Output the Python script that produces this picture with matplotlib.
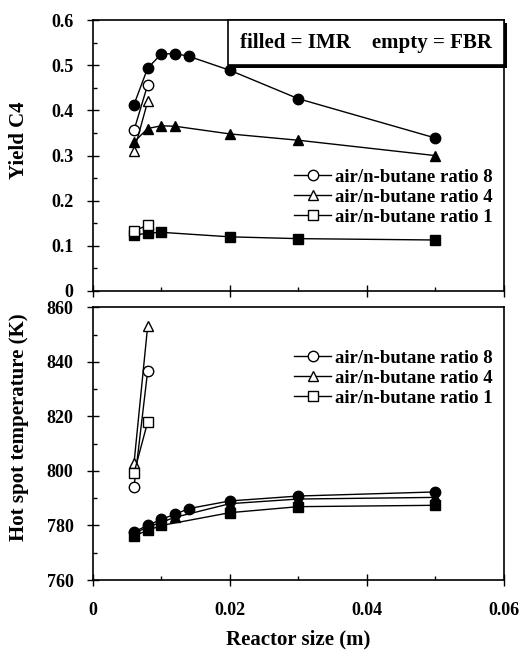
import matplotlib
matplotlib.use("Agg")
import matplotlib.pyplot as plt
from matplotlib.ticker import MultipleLocator
from matplotlib.lines import Line2D
from matplotlib.patches import Rectangle

plt.rcParams['font.family'] = ['Liberation Serif', 'DejaVu Serif']
plt.rcParams['font.weight'] = 'bold'

# reactor size (m)
x_imr8 = [0.006, 0.008, 0.010, 0.012, 0.014, 0.020, 0.030, 0.050]
x_imr4 = [0.006, 0.008, 0.010, 0.012, 0.020, 0.030, 0.050]
x_imr1 = [0.006, 0.008, 0.010, 0.020, 0.030, 0.050]
x_fbr = [0.006, 0.008]

# yield C4
y_imr8 = [0.413, 0.494, 0.525, 0.526, 0.520, 0.489, 0.426, 0.339]
y_imr4 = [0.330, 0.360, 0.366, 0.365, 0.348, 0.334, 0.300]
y_imr1 = [0.124, 0.128, 0.130, 0.120, 0.116, 0.113]
y_fbr8 = [0.356, 0.457]
y_fbr4 = [0.310, 0.420]
y_fbr1 = [0.133, 0.146]

# hot spot temperature (K)
t_imr8 = [777.7, 780.0, 782.3, 784.1, 786.2, 789.0, 790.8, 792.3]
t_imr4 = [777.0, 779.5, 781.2, 783.0, 788.0, 789.7, 790.3]
t_imr1 = [776.2, 778.2, 780.0, 784.7, 786.9, 787.4]
t_fbr8 = [794.1, 836.7]
t_fbr4 = [802.8, 853.2]
t_fbr1 = [799.2, 818.0]

yield_ticks = [0, 0.1, 0.2, 0.3, 0.4, 0.5, 0.6]
yield_labels = ['0', '0.1', '0.2', '0.3', '0.4', '0.5', '0.6']
temp_ticks = [760, 780, 800, 820, 840, 860]
size_ticks = [0, 0.02, 0.04, 0.06]
size_labels = ['0', '0.02', '0.04', '0.06']

labels = ['air/n-butane ratio 8', 'air/n-butane ratio 4', 'air/n-butane ratio 1']
markers = ['o', '^', 's']
msizes = [7.5, 7.5, 6.5]

fig = plt.figure(figsize=(5.22, 6.51), dpi=100)
ax1 = fig.add_axes([0.178, 0.553, 0.787, 0.416])
ax2 = fig.add_axes([0.178, 0.109, 0.787, 0.419])


def draw(ax, imr, fbr):
    for (xs, ys), m, ms in zip(imr, markers, msizes):
        ax.plot(xs, ys, color='black', lw=1, marker=m, ms=ms,
                mfc='black', mec='black')
    for ys, m, ms in zip(fbr, markers, msizes):
        ax.plot(x_fbr, ys, color='black', lw=1, marker=m, ms=ms,
                mfc='white', mec='black', mew=1)
    ax.set_xlim(0, 0.06)
    ax.set_xticks(size_ticks)
    ax.xaxis.set_minor_locator(MultipleLocator(0.01))
    ax.tick_params(which='major', direction='inout', length=8, width=1,
                   labelsize=13, right=False, top=False)
    ax.tick_params(which='minor', direction='in', length=3, width=1)
    ax.tick_params(axis='y', pad=10)
    for s in ax.spines.values():
        s.set_linewidth(1.2)
    handles = [Line2D([], [], color='black', lw=1, marker=m, ms=ms,
                      mfc='white', mec='black') for m, ms in zip(markers, msizes)]
    return handles


leg_kw = dict(loc='upper right', frameon=False, fontsize=13.5, handlelength=2.0,
              handletextpad=0.2, borderpad=0.2, labelspacing=0.15)

h = draw(ax1, [(x_imr8, y_imr8), (x_imr4, y_imr4), (x_imr1, y_imr1)],
         [y_fbr8, y_fbr4, y_fbr1])
ax1.set_ylim(0, 0.6)
ax1.set_yticks(yield_ticks)
ax1.set_yticklabels(yield_labels)
ax1.yaxis.set_minor_locator(MultipleLocator(0.05))
ax1.set_xticklabels([])
ax1.set_ylabel('Yield C4', fontsize=15, fontweight='bold')
ax1.yaxis.set_label_coords(-0.155, 0.557)
ax1.legend(h, labels, bbox_to_anchor=(1.005, 0.50), **leg_kw)

# "filled = IMR  empty = FBR" box with shadow
ax1.add_patch(Rectangle((0.33, 0.835), 0.67, 0.165, transform=ax1.transAxes,
                        facecolor='white', edgecolor='black', lw=1.2,
                        zorder=5, clip_on=False))
ax1.add_patch(Rectangle((0.338, 0.825), 0.67, 0.165, transform=ax1.transAxes,
                        facecolor='black', edgecolor='black', lw=0,
                        zorder=4, clip_on=False))
ax1.text(0.665, 0.915, 'filled = IMR    empty = FBR', transform=ax1.transAxes,
         ha='center', va='center', fontsize=15, fontweight='bold', zorder=6)

h = draw(ax2, [(x_imr8, t_imr8), (x_imr4, t_imr4), (x_imr1, t_imr1)],
         [t_fbr8, t_fbr4, t_fbr1])
ax2.set_ylim(760, 860)
ax2.set_yticks(temp_ticks)
ax2.yaxis.set_minor_locator(MultipleLocator(10))
ax2.set_xticklabels(size_labels)
ax2.tick_params(axis='x', pad=12)
ax2.set_ylabel('Hot spot temperature (K)', fontsize=15, fontweight='bold')
ax2.yaxis.set_label_coords(-0.155, 0.56)
ax2.set_xlabel('Reactor size (m)', fontsize=15, fontweight='bold', labelpad=7)
ax2.legend(h, labels, bbox_to_anchor=(1.005, 0.893), **leg_kw)

fig.savefig('out.png', dpi=100)
